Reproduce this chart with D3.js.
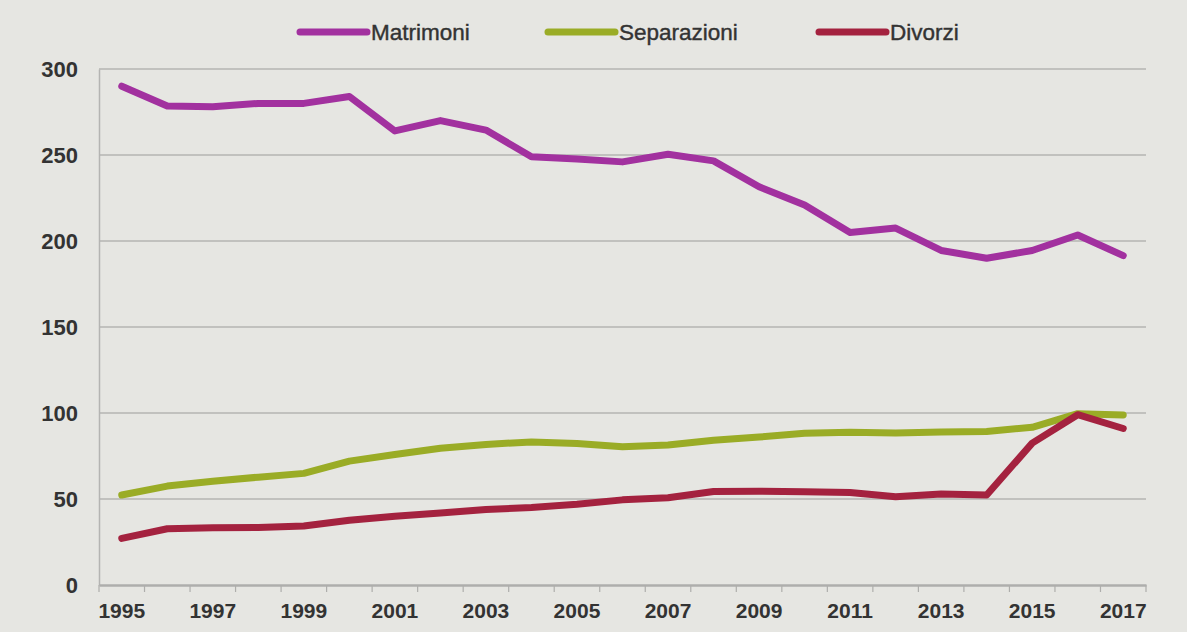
<!DOCTYPE html>
<html><head><meta charset="utf-8">
<script src="https://cdn.jsdelivr.net/npm/d3@7/dist/d3.min.js"></script>
<style>
html,body{margin:0;padding:0;background:#e6e6e2;}
svg{display:block;}
text{font-family:"Liberation Sans",Arial,sans-serif;}
</style></head><body>
<svg id="c" width="1187" height="632"></svg>
<script>
const years = d3.range(1995, 2018);
const yearLabels = ["1995","1997","1999","2001","2003","2005","2007","2009","2011","2013","2015","2017"];
const yTicks = [0,50,100,150,200,250,300];
const seriesNames = ["Matrimoni","Separazioni","Divorzi"];
const seriesColors = ["#a2319f","#9aac26","#a4223f"];
const matrimoni = [290,278.5,278,280,280,284,264,270,264.5,249,247.7,246,250.4,246.6,231.5,221,205,207.5,194.5,190,194.5,203.5,191.5];
const separazioni = [52.3,57.5,60.3,62.7,64.9,72,75.9,79.5,81.7,83.2,82.3,80.4,81.4,84.2,86,88.2,88.8,88.3,88.9,89.3,91.7,99.6,98.9];
const divorzi = [27.1,32.7,33.3,33.5,34.3,37.6,40,41.8,43.9,45.1,47,49.5,50.7,54.4,54.5,54.2,53.8,51.3,52.9,52.3,82.5,99,91];
const seriesValues = [matrimoni, separazioni, divorzi];

const svg = d3.select("#c");
const M = {left: 99, right: 1146, top: 69, bottom: 585};

const x = d3.scaleBand().domain(years).range([M.left, M.right]).padding(0);
const y = d3.scaleLinear().domain([0,300]).range([M.bottom, M.top]);

// gridlines
svg.append("g").selectAll("line").data(yTicks.filter(d=>d>0)).join("line")
  .attr("x1", M.left).attr("x2", M.right)
  .attr("y1", d=>y(d)).attr("y2", d=>y(d))
  .attr("stroke", "#b4b4b2").attr("stroke-width", 1.5);

// y axis
const yAxis = svg.append("g").attr("transform", `translate(${M.left},0)`)
  .call(d3.axisLeft(y).tickValues(yTicks).tickSize(0).tickPadding(21));
yAxis.select(".domain").attr("stroke", "#b4b4b2").attr("stroke-width", 1.5);
yAxis.selectAll("text").attr("font-size", 22).attr("font-weight", "bold").attr("fill", "#333");

// x axis
const xAxis = svg.append("g").attr("transform", `translate(0,${M.bottom})`)
  .call(d3.axisBottom(x).tickValues(years).tickSize(0).tickPadding(18)
    .tickFormat(d => yearLabels.includes(String(d)) ? String(d) : ""));
xAxis.select(".domain").attr("stroke", "#aeaeac").attr("stroke-width", 2.5);
xAxis.selectAll("text").attr("font-size", 21).attr("font-weight", "bold").attr("fill", "#333");
// boundary ticks
const bounds = years.map(d => x(d)).concat([M.right]);
svg.append("g").selectAll("line").data(bounds).join("line")
  .attr("x1", d=>d).attr("x2", d=>d).attr("y1", M.bottom).attr("y2", M.bottom+7)
  .attr("stroke", "#aeaeac").attr("stroke-width", 1.2);

// lines
const line = d3.line().x((d,i)=>x(years[i]) + x.bandwidth()/2).y(d=>y(d));
seriesValues.forEach((vals, i) => {
  svg.append("path").datum(vals)
    .attr("d", line)
    .attr("fill", "none")
    .attr("stroke", seriesColors[i])
    .attr("stroke-width", 7)
    .attr("stroke-linejoin", "round")
    .attr("stroke-linecap", "round");
});

// legend
const legendX = [300, 548, 819];
const leg = svg.append("g");
seriesNames.forEach((n, i) => {
  const g = leg.append("g").attr("transform", `translate(${legendX[i]},32)`);
  g.append("line").attr("x1", 0).attr("x2", 67).attr("y1", 0).attr("y2", 0)
    .attr("stroke", seriesColors[i]).attr("stroke-width", 7).attr("stroke-linecap", "round");
  g.append("text").attr("x", 71).attr("y", 0).attr("dy", "0.35em")
    .attr("font-size", 22.5).attr("fill", "#333")
    .attr("stroke", "#333").attr("stroke-width", 0.4).text(n);
});
</script>
</body></html>
